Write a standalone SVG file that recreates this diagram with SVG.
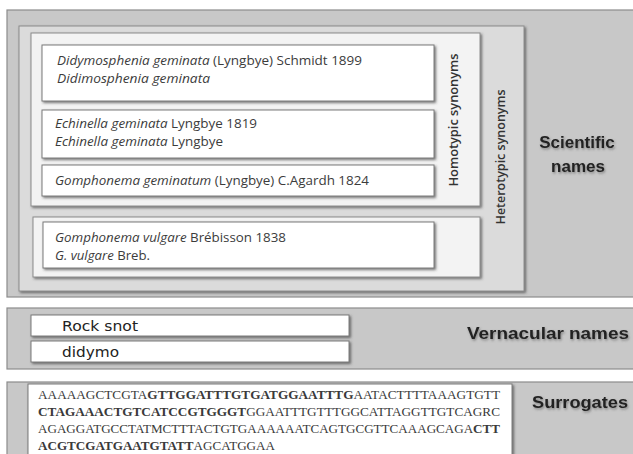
<svg xmlns="http://www.w3.org/2000/svg" width="633" height="454" viewBox="0 0 633 454">
<defs>
<filter id="sh" x="-5%" y="-5%" width="112%" height="130%">
<feDropShadow dx="1.5" dy="1.5" stdDeviation="0.8" flood-color="#404040" flood-opacity="0.7"/>
</filter>
<filter id="tsh" x="-10%" y="-30%" width="125%" height="170%">
<feDropShadow dx="1" dy="1.5" stdDeviation="1.2" flood-color="#555555" flood-opacity="0.6"/>
</filter>
</defs>
<style>
.panel{fill:#c8c8c8;stroke:#8c8c8c;stroke-width:1.2}
.het{fill:#dbdbdb;stroke:#8c8c8c;stroke-width:1}
.hom{fill:#f3f3f3;stroke:#8c8c8c;stroke-width:1}
.box{fill:#ffffff;stroke:#7a7a7a;stroke-width:1}
.nm{font-family:"Open Sans","Liberation Sans",sans-serif;font-size:13px;fill:#3c3c3c}
.it{font-style:italic}
.vt{font-family:"Open Sans","Liberation Sans",sans-serif;font-size:13px;font-weight:600;fill:#333333}
.lab{font-family:"Liberation Sans",Arial,sans-serif;font-size:17px;font-weight:bold;fill:#222222}
.ver{font-family:"DejaVu Sans","Liberation Sans",sans-serif;font-size:14px;fill:#222222}
.dna{font-family:"Liberation Serif","Times New Roman",serif;font-size:12.5px;fill:#3a3a3a}
.b{font-weight:bold}
</style>
<rect width="633" height="454" fill="#ffffff"/>

<g id="scientific">
<rect class="panel" x="7" y="10" width="630" height="287"/>
<text class="lab" x="577" y="148" text-anchor="middle" filter="url(#tsh)">Scientific</text>
<text class="lab" x="578" y="172" text-anchor="middle" filter="url(#tsh)">names</text>
</g>

<g id="heterotypic">
<rect class="het" x="19" y="26" width="505" height="265" filter="url(#sh)"/>
<text class="vt" transform="translate(505,157) rotate(-90)" text-anchor="middle" textLength="135" lengthAdjust="spacingAndGlyphs">Heterotypic synonyms</text>
</g>

<g id="homotypic">
<rect class="hom" x="31" y="33" width="449" height="173" filter="url(#sh)"/>
<text class="vt" transform="translate(458,120) rotate(-90)" text-anchor="middle" textLength="133" lengthAdjust="spacingAndGlyphs">Homotypic synonyms</text>
</g>

<g id="didymosphenia">
<rect class="box" x="42" y="45" width="392" height="56" filter="url(#sh)"/>
<text class="nm" x="57" y="65" textLength="305" lengthAdjust="spacingAndGlyphs"><tspan class="it">Didymosphenia geminata</tspan> (Lyngbye) Schmidt 1899</text>
<text class="nm it" x="57" y="83" textLength="153" lengthAdjust="spacingAndGlyphs">Didimosphenia geminata</text>
</g>

<g id="echinella">
<rect class="box" x="42" y="110" width="392" height="48" filter="url(#sh)"/>
<text class="nm" x="55" y="128" textLength="202" lengthAdjust="spacingAndGlyphs"><tspan class="it">Echinella geminata</tspan> Lyngbye 1819</text>
<text class="nm" x="55" y="146" textLength="168" lengthAdjust="spacingAndGlyphs"><tspan class="it">Echinella geminata</tspan> Lyngbye</text>
</g>

<g id="gomphonema-geminatum">
<rect class="box" x="42" y="165" width="392" height="31" filter="url(#sh)"/>
<text class="nm" x="55" y="185" textLength="314" lengthAdjust="spacingAndGlyphs"><tspan class="it">Gomphonema geminatum</tspan> (Lyngbye) C.Agardh 1824</text>
</g>

<g id="vulgare-group">
<rect class="hom" x="33" y="217" width="447" height="60" filter="url(#sh)"/>
</g>

<g id="gomphonema-vulgare">
<rect class="box" x="43" y="222" width="391" height="46" filter="url(#sh)"/>
<text class="nm" x="55" y="242" textLength="231" lengthAdjust="spacingAndGlyphs"><tspan class="it">Gomphonema vulgare</tspan> Brébisson 1838</text>
<text class="nm" x="55" y="260" textLength="95" lengthAdjust="spacingAndGlyphs"><tspan class="it">G. vulgare</tspan> Breb.</text>
</g>

<g id="vernacular">
<rect class="panel" x="7" y="308" width="630" height="61"/>
<text class="lab" x="467" y="339" textLength="162" lengthAdjust="spacingAndGlyphs" filter="url(#tsh)">Vernacular names</text>
</g>

<g id="rock-snot">
<rect class="box" x="31" y="315" width="318" height="21" filter="url(#sh)"/>
<text class="ver" x="62" y="331" textLength="76" lengthAdjust="spacingAndGlyphs">Rock snot</text>
</g>

<g id="didymo">
<rect class="box" x="31" y="341" width="318" height="21" filter="url(#sh)"/>
<text class="ver" x="62" y="357" textLength="57" lengthAdjust="spacingAndGlyphs">didymo</text>
</g>

<g id="surrogates">
<rect class="panel" x="7" y="382" width="630" height="80"/>
<text class="lab" x="580" y="408" text-anchor="middle" textLength="96" lengthAdjust="spacingAndGlyphs" filter="url(#tsh)">Surrogates</text>
</g>

<g id="sequence">
<rect class="box" x="28" y="384" width="484" height="80" filter="url(#sh)"/>
<text class="dna" x="38" y="399" textLength="462" lengthAdjust="spacingAndGlyphs">AAAAAGCTCGTA<tspan class="b">GTTGGATTTGTGATGGAATTTG</tspan>AATACTTTTAAAGTGTT</text>
<text class="dna" x="38" y="416" textLength="462" lengthAdjust="spacingAndGlyphs"><tspan class="b">CTAGAAACTGTCATCCGTGGGT</tspan>GGAATTTGTTTGGCATTAGGTTGTCAGRC</text>
<text class="dna" x="38" y="433" textLength="462" lengthAdjust="spacingAndGlyphs">AGAGGATGCCTATMCTTTACTGTGAAAAAATCAGTGCGTTCAAAGCAGA<tspan class="b">CTT</tspan></text>
<text class="dna" x="38" y="450" textLength="237" lengthAdjust="spacingAndGlyphs"><tspan class="b">ACGTCGATGAATGTATT</tspan>AGCATGGAA</text>
</g>
</svg>
